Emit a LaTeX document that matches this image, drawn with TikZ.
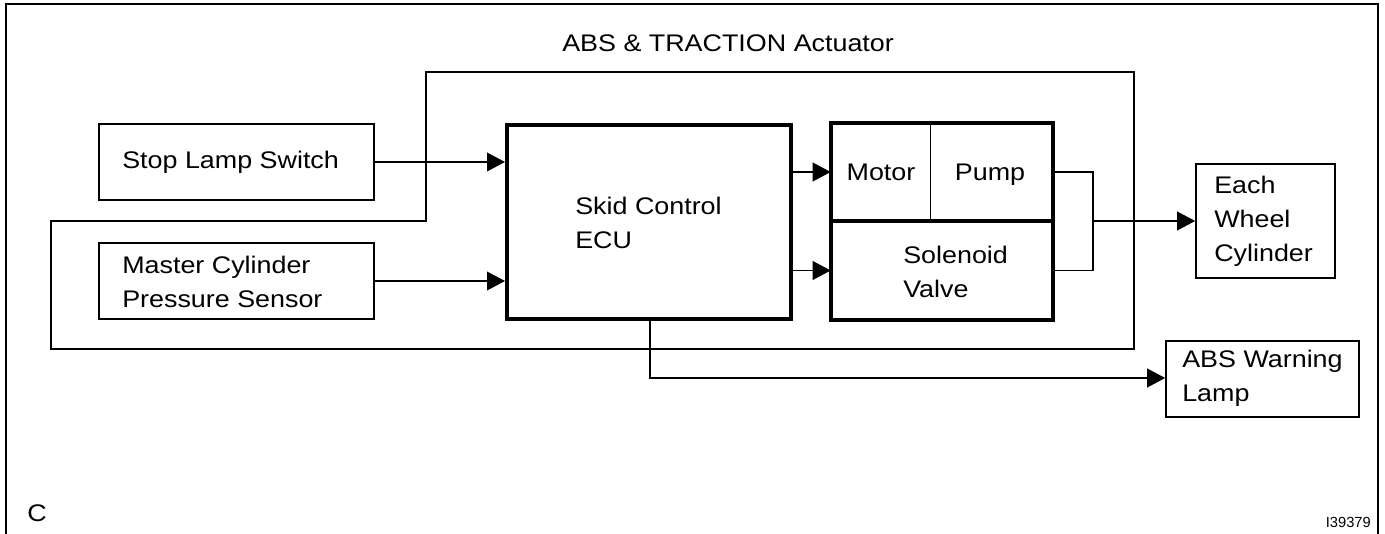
\documentclass[tikz,border=0pt]{standalone}
\usepackage{fontspec}
\setmainfont[FakeStretch=1.12]{Liberation Sans}
\newfontfamily\plainsans{Liberation Sans}
\usetikzlibrary{arrows.meta}
\begin{document}
\begin{tikzpicture}[x=0.75pt,y=-0.75pt,
  font=\fontsize{18pt}{25.5pt}\selectfont,
  thinbox/.style={draw, line width=1.2pt, inner sep=0pt},
  thickbox/.style={draw, line width=3pt, inner sep=0pt},
  blank/.style={inner sep=0pt},
  lbl/.style={inner sep=0pt, align=left, anchor=west},
  conn/.style={line width=1.2pt},
  arr/.style={line width=1.2pt, -{Triangle[length=13.5pt,width=14pt]}}]
\useasboundingbox (0,0) rectangle (1385,534);
% outer frame (bottom edge outside the picture)
\draw[line width=2.2pt] (6,540) -- (6,4) -- (1378,4) -- (1378,540);
% actuator outline
\draw[line width=1.1pt] (426,72) -- (1134,72) -- (1134,349) -- (51,349) -- (51,221) -- (426,221) -- cycle;
\node[lbl] (tact) at (562,43) {ABS \& TRACTION Actuator};
% input boxes
\node[thinbox, minimum width=275*0.75pt, minimum height=76*0.75pt] (sls) at (236.5,162) {};
\node[lbl] (tsls) at (122,162) {Stop Lamp Switch};
\node[thinbox, minimum width=275*0.75pt, minimum height=76*0.75pt] (mcp) at (236.5,281) {};
\node[lbl] (tmcp) at (122,282) {Master Cylinder\\Pressure Sensor};
% ECU
\node[thickbox, minimum width=284*0.75pt, minimum height=194*0.75pt] (ecu) at (649,222) {};
\node[lbl] (tecu) at (575,223) {Skid Control\\ECU};
% motor / pump / solenoid
\node[blank, minimum width=99*0.75pt, minimum height=98*0.75pt] (motor) at (880.5,172) {};
\node[blank, minimum width=123*0.75pt, minimum height=98*0.75pt] (pump) at (991.5,172) {};
\node[blank, minimum width=222*0.75pt, minimum height=99*0.75pt] (sol) at (942,270.5) {};
\draw[line width=1.1pt] (motor.north east) -- (motor.south east);
\draw[line width=3pt] (motor.south west) -- (pump.south east);
\draw[line width=3pt] (motor.north west) rectangle (sol.south east);
\node[inner sep=0pt, anchor=base] (tmotor) at (881,181) {Motor};
\node[inner sep=0pt, anchor=base] (tpump) at (990,181) {Pump};
\node[lbl] (tsol) at (903,271.5) {Solenoid\\Valve};
% outputs
\node[thinbox, minimum width=139*0.75pt, minimum height=114*0.75pt] (ewc) at (1265.5,221) {};
\node[lbl] (tewc) at (1214,221) {Each\\Wheel\\Cylinder};
\node[thinbox, minimum width=193*0.75pt, minimum height=76*0.75pt] (absw) at (1262.5,379) {};
\node[lbl] (tabsw) at (1182,378) {ABS Warning\\Lamp};
% connectors
\draw[arr] (sls.east) -- (sls.east -| ecu.west);
\draw[arr] (mcp.east) -- (mcp.east -| ecu.west);
\draw[arr] (motor.west -| ecu.east) -- (motor.west);
\draw[arr] (sol.west -| ecu.east) -- (sol.west);
\coordinate (j) at (1093,221);
\draw[conn] (pump.east) -| (j) |- (sol.east);
\draw[arr] (j) -- (j -| ewc.west);
\coordinate (bend) at (650,378);
\draw[arr] (bend |- ecu.south) -- (bend) -- (bend -| absw.west);
% corner marks
\node[lbl] (tc) at (27,513) {C};
\node[inner sep=0pt, anchor=east, font=\plainsans\fontsize{11pt}{13pt}\selectfont] (tid) at (1371,522) {I39379};
\end{tikzpicture}
\end{document}
